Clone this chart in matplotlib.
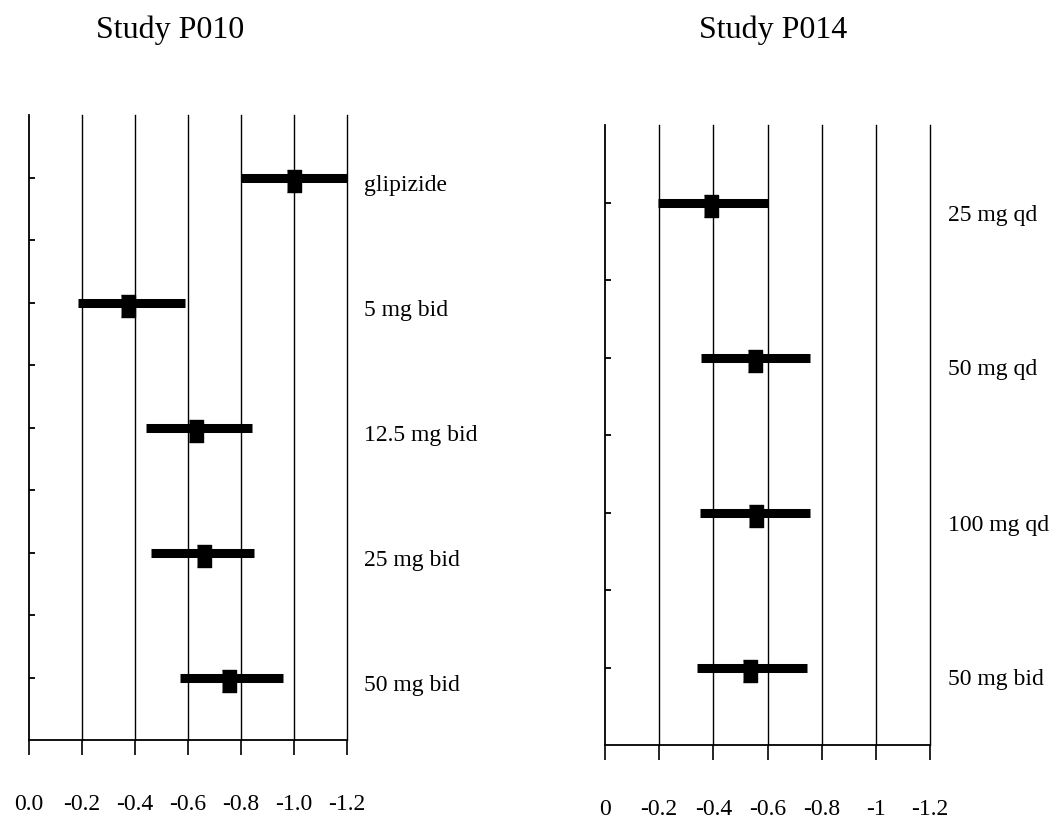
import numpy as np
from matplotlib import pyplot as plt

# Study P010
p010_labels = ["glipizide", "5 mg bid", "12.5 mg bid", "25 mg bid", "50 mg bid"]
p010_mean = [-1.00, -0.375, -0.63, -0.66, -0.755]
p010_low = [-0.80, -0.185, -0.44, -0.46, -0.57]
p010_high = [-1.20, -0.59, -0.84, -0.85, -0.96]
p010_pos = [9, 7, 5, 3, 1]

# Study P014
p014_labels = ["25 mg qd", "50 mg qd", "100 mg qd", "50 mg bid"]
p014_mean = [-0.39, -0.553, -0.557, -0.535]
p014_low = [-0.196, -0.354, -0.35, -0.34]
p014_high = [-0.60, -0.756, -0.756, -0.745]
p014_pos = [7, 5, 3, 1]

ticks = [0, -0.2, -0.4, -0.6, -0.8, -1.0, -1.2]
p010_ticklabels = ["0.0", "-0.2", "-0.4", "-0.6", "-0.8", "-1.0", "-1.2"]
p014_ticklabels = ["0", "-0.2", "-0.4", "-0.6", "-0.8", "-1", "-1.2"]

plt.rcParams["font.family"] = ["Liberation Serif", "DejaVu Serif"]

fig = plt.figure(figsize=(10.54, 8.33), dpi=100)
W, H = 1054, 833


def px_axes(x0, x1, ytop, ybot):
    return fig.add_axes([x0 / W, 1 - ybot / H, (x1 - x0) / W, (ybot - ytop) / H])


def forest(ax, labels, mean, low, high, pos, ymax, ticklabels, lab_dy):
    ax.set_xlim(0, -1.2)
    ax.set_ylim(0, ymax)
    for t in ticks[1:]:
        ax.axvline(t, color="black", lw=1.0, zorder=1, clip_on=False)
    for lab, m, lo, hi, y in zip(labels, mean, low, high, pos):
        ax.plot([lo, hi], [y, y], color="black", lw=6.5, solid_capstyle="butt",
                zorder=3, clip_on=False)
        ax.plot(m, y - 0.05, marker=[(-0.6, -1), (0.6, -1), (0.6, 1), (-0.6, 1)],
                color="black", markersize=16, zorder=4, clip_on=False)
        ax.annotate(lab, xy=(1.055, y), xycoords=("axes fraction", "data"),
                    xytext=(0, lab_dy), textcoords="offset points",
                    ha="left", va="center", fontsize=17, annotation_clip=False)
    ax.spines["top"].set_visible(False)
    ax.spines["right"].set_visible(False)
    ax.spines["left"].set_linewidth(1.3)
    ax.spines["bottom"].set_linewidth(1.3)
    ax.set_xticks(ticks)
    ax.set_xticklabels(ticklabels, fontsize=17)
    ax.tick_params(axis="x", direction="out", length=11, width=1.2, pad=28)
    ax.set_yticks(np.arange(1, ymax))
    ax.set_yticklabels([])
    ax.tick_params(axis="y", direction="in", length=4, width=1.3)
    ax.set_facecolor("none")


ax1 = px_axes(29, 347, 115, 740)
forest(ax1, p010_labels, p010_mean, p010_low, p010_high, p010_pos, 10,
       p010_ticklabels, -6)

ax2 = px_axes(605, 930, 125, 745)
forest(ax2, p014_labels, p014_mean, p014_low, p014_high, p014_pos, 8,
       p014_ticklabels, -9)

fig.text(170 / W, 1 - 30 / H, "Study P010", ha="center", va="center", fontsize=23)
fig.text(773 / W, 1 - 30 / H, "Study P014", ha="center", va="center", fontsize=23)

fig.savefig("out.png", dpi=100)
